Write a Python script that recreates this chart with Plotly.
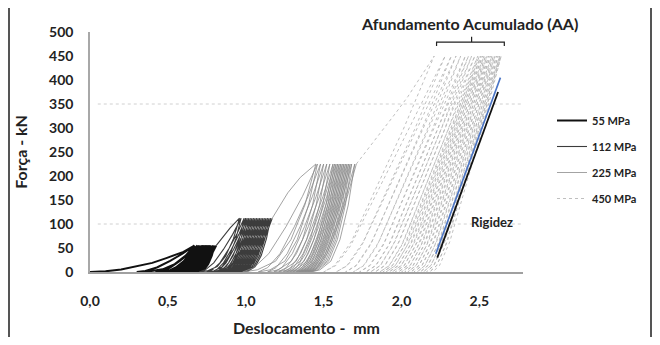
import plotly.graph_objects as go

# ---------------- data ----------------
# first-loading (virgin) branch of every load level: displacement mm, force kN
v1_d = [0.00, 0.10, 0.20, 0.28, 0.40, 0.49, 0.60, 0.67]
v1_f = [0, 1.5, 5, 10, 19, 29, 42, 55]
v2_d = [0.81, 0.85, 0.90, 0.96]
v2_f = [55, 72, 92, 112]
v3_d = [1.17, 1.22, 1.27, 1.35, 1.45]
v3_f = [112, 140, 165, 197, 225]
v4_d = [1.71, 1.80, 1.88, 1.96, 2.04, 2.12, 2.21]
v4_f = [225, 262, 295, 330, 365, 405, 450]

# cycles: displacement where a reload starts (F~0) and displacement at the peak
c1_base = [0.30, 0.42, 0.47, 0.50, 0.52, 0.54, 0.55, 0.56, 0.57, 0.58, 0.59, 0.60,
           0.61, 0.62, 0.63, 0.64, 0.65, 0.66, 0.67, 0.68]
c1_top = [0.67, 0.69, 0.70, 0.71, 0.72, 0.725, 0.73, 0.735, 0.74, 0.745, 0.75, 0.755,
          0.76, 0.765, 0.77, 0.775, 0.78, 0.79, 0.80, 0.81]
c2_base = [0.70, 0.75, 0.78, 0.80, 0.82, 0.84, 0.85, 0.86, 0.87, 0.88, 0.89, 0.90,
           0.91, 0.92, 0.93, 0.94, 0.95, 0.96, 0.97, 0.98]
c2_top = [0.97, 0.99, 1.00, 1.01, 1.02, 1.03, 1.04, 1.05, 1.06, 1.07, 1.08, 1.09,
          1.10, 1.11, 1.12, 1.13, 1.14, 1.15, 1.16, 1.17]
c3_base = [0.98, 1.08, 1.14, 1.18, 1.21, 1.24, 1.26, 1.28, 1.30, 1.32, 1.33, 1.34,
           1.35, 1.36, 1.37, 1.38, 1.39, 1.40, 1.41, 1.42]
c3_top = [1.46, 1.48, 1.50, 1.52, 1.54, 1.56, 1.57, 1.58, 1.59, 1.60, 1.61, 1.62,
          1.63, 1.64, 1.65, 1.66, 1.67, 1.68, 1.70, 1.71]
c4_base = [1.50, 1.58, 1.64, 1.69, 1.73, 1.77, 1.80, 1.83, 1.86, 1.88, 1.90, 1.92,
           1.94, 1.96, 1.98, 2.00, 2.02, 2.04, 2.06, 2.08, 2.10, 2.12, 2.14, 2.16, 2.18, 2.20]
c4_top = [2.28, 2.32, 2.35, 2.38, 2.41, 2.43, 2.45, 2.47, 2.49, 2.50, 2.51, 2.52,
          2.53, 2.54, 2.55, 2.56, 2.57, 2.58, 2.59, 2.60, 2.61, 2.62, 2.63, 2.635, 2.64]
peaks = [55, 112, 225, 450]
labels = ["55 MPa", "112 MPa", "225 MPa", "450 MPa"]

# loop shape (fractions of the loop width / peak force)
load_fd = [0, 0.15, 0.35, 0.58, 0.80, 1]
load_ff = [0, 0.04, 0.17, 0.42, 0.70, 1]
unl_fd = [1, 0.85, 0.66, 0.45, 0.20, 0]
unl_ff = [1, 0.62, 0.30, 0.10, 0.02, 0]
load4_fd = [0, 0.10, 0.22, 0.45, 0.72, 1]
load4_ff = [0, 0.03, 0.12, 0.38, 0.68, 1]
unl4_fd = [1, 0.72, 0.45, 0.25, 0.10, 0]
unl4_ff = [1, 0.66, 0.36, 0.14, 0.03, 0]

# stiffness line (last unloading)
rig_d = [2.23, 2.62]
rig_f = [30, 375]
rigb_d = [2.22, 2.635]
rigb_f = [38, 405]


def build(vd, vf, bases, tops, peak, ld, lf, ud, uf):
    xs, ys = list(vd), list(vf)
    prev = vd[-1]
    for i, b in enumerate(bases):
        for a, c in zip(ud, uf):
            xs.append(b + (prev - b) * a)
            ys.append(peak * c)
        if i < len(tops):
            t = tops[i]
            for a, c in zip(ld, lf):
                xs.append(b + (t - b) * a)
                ys.append(peak * c)
            prev = t
    return xs, ys


groups = [
    build(v1_d, v1_f, c1_base, c1_top, peaks[0], load_fd, load_ff, unl_fd, unl_ff),
    build(v2_d, v2_f, c2_base, c2_top, peaks[1], load_fd, load_ff, unl_fd, unl_ff),
    build(v3_d, v3_f, c3_base, c3_top, peaks[2], load_fd, load_ff, unl_fd, unl_ff),
    build(v4_d, v4_f, c4_base, c4_top, peaks[3], load4_fd, load4_ff, unl4_fd, unl4_ff),
]
styles = [
    dict(color="#111111", width=2.0),
    dict(color="#3c3c3c", width=1.1),
    dict(color="#8c8c8c", width=0.8),
    dict(color="#b8b8b8", width=0.9, dash="dot"),
]

FONT = "Lato, 'Open Sans', sans-serif"
fig = go.Figure()
for (xs, ys), st, lab in zip(groups, styles, labels):
    fig.add_trace(go.Scatter(x=xs, y=ys, mode="lines", line=st, name=lab,
                             legendgroup=lab, hoverinfo="skip"))

fig.add_trace(go.Scatter(x=rigb_d, y=rigb_f, mode="lines", showlegend=False,
                         line=dict(color="#4a74c4", width=1.6)))
fig.add_trace(go.Scatter(x=rig_d, y=rig_f, mode="lines", showlegend=False,
                         line=dict(color="#111111", width=1.8)))

# the page body adds an 8 px offset; layout numbers below are figure pixels
OFF = 8
W, H = 660 - 2 * OFF, 345 - 2 * OFF
ML, MT = 90 - OFF, 32 - OFF
MR = W - (523 - OFF)
MB = H - (272 - OFF)
pw, ph = W - ML - MR, H - MT - MB


def px(xpage):
    return (xpage - OFF - ML) / pw


def py(ypage):
    return (H - MB - (ypage - OFF)) / ph


shapes = []
for g in [100, 350]:
    shapes.append(dict(type="line", xref="x", yref="y", x0=0.05, x1=2.77, y0=g, y1=g,
                       line=dict(color="#d0d0d0", width=1, dash="dot"), layer="below"))
# bracket over accumulated settlement
shapes.append(dict(type="path", xref="x", yref="y",
                   path="M 2.225 471 L 2.225 479 L 2.66 479 L 2.66 471 M 2.45 479 L 2.45 490",
                   line=dict(color="#222222", width=1.2)))
# image frame (left and right edges)
for xp in [OFF + 1, OFF + W - 1]:
    shapes.append(dict(type="line", xref="paper", yref="paper", x0=px(xp), x1=px(xp),
                       y0=py(OFF), y1=py(OFF + H), line=dict(color="#555555", width=2)))

fig.update_layout(
    width=W, height=H,
    margin=dict(l=ML, r=MR, t=MT, b=MB, autoexpand=False),
    paper_bgcolor="white", plot_bgcolor="white",
    separators=",.",
    font=dict(family=FONT, color="#222222"),
    showlegend=True,
    legend=dict(x=px(552), y=py(106), xanchor="left", yanchor="top",
                font=dict(size=11, family=FONT, color="#222222", weight="bold"),
                tracegroupgap=7, bgcolor="rgba(0,0,0,0)", itemwidth=30),
    shapes=shapes,
    annotations=[
        dict(text="<b>Afundamento Acumulado (AA)</b>", xref="paper", yref="paper",
             x=px(469), y=py(24), xanchor="center", yanchor="middle", showarrow=False,
             font=dict(size=16, family=FONT)),
        dict(text="<b>Rigidez</b>", xref="x", yref="y", x=2.58, y=104, showarrow=False,
             xanchor="center", yanchor="middle", font=dict(size=13, family=FONT)),
    ],
    xaxis=dict(range=[0, 2.78], tickvals=[0, 0.5, 1.0, 1.5, 2.0, 2.5], tickformat=".1f",
               showgrid=False, zeroline=False, showline=True, linecolor="#a0a0a0",
               linewidth=1.5, ticks="", ticklabelstandoff=15, automargin=False,
               tickfont=dict(size=14, family=FONT, weight="bold", color="#222222"),
               title=dict(text="<b>Deslocamento -  mm</b>", standoff=18,
                          font=dict(size=16, family=FONT))),
    yaxis=dict(range=[0, 500], dtick=50, showgrid=False, zeroline=False, showline=True,
               linecolor="#a8a8a8", linewidth=1.5, ticks="", ticklabelstandoff=12,
               automargin=False,
               tickfont=dict(size=14, family=FONT, weight="bold", color="#222222"),
               title=dict(text="<b>Força - kN</b>", standoff=17,
                          font=dict(size=16, family=FONT))),
)

fig.write_html("out.html")
